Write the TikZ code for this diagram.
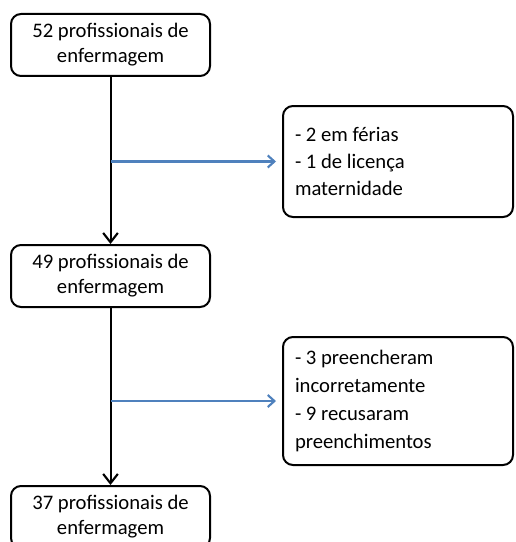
\documentclass[tikz,border=0pt]{standalone}
\usepackage{fontspec}
\setmainfont{Carlito}
\usetikzlibrary{arrows.meta}
\definecolor{arrowblue}{RGB}{79,129,189}
\begin{document}
\begin{tikzpicture}[x=0.75pt,y=-0.75pt,
  box/.style={draw=black, line width=1.5pt, rounded corners=7.5pt, fill=white, inner sep=0pt},
  mainbox/.style={box, minimum width=149.25pt, minimum height=46.5pt, align=center,
    font=\fontsize{15.5pt}{18.75pt}\selectfont},
  sidebox/.style={box, minimum width=172.5pt, inner xsep=9pt, text width=154.5pt, align=flush left},
  flow/.style={draw=black, line width=1.5pt, -{Straight Barb[length=7pt,width=11pt,line width=1.6pt]}},
  side/.style={draw=arrowblue, line width=1.8pt, shorten >=4.5pt, -{Straight Barb[length=5pt,width=9pt,line width=1.6pt]}}]
\useasboundingbox (0,0) rectangle (515,542);
\clip (0,0) rectangle (515,542);

\node[mainbox] (b1) at (110.5,45) {52 profissionais de\\enfermagem};
\node[mainbox] (b2) at (110.5,276) {49 profissionais de\\enfermagem};
\node[mainbox] (b3) at (110.5,517) {37 profissionais de\\enfermagem};

\node[sidebox, minimum height=83.25pt, font=\fontsize{15.5pt}{20.5pt}\selectfont] (r1) at (398,161.5)
  {- 2 em férias\\- 1 de licença\\maternidade};
\node[sidebox, minimum height=96pt, font=\fontsize{15.5pt}{21pt}\selectfont] (r2) at (398,401)
  {- 3 preencheram\\incorretamente\\- 9 recusaram\\preenchimentos};

\draw[flow] (b1.south) -- (b2.north);
\draw[flow] (b2.south) -- (b3.north);

\coordinate (j1) at (b1.south |- r1.west);
\coordinate (j2) at (b2.south |- r2.west);
\draw[side] (j1) -- (r1.west);
\draw[side] (j2) -- (r2.west);
\end{tikzpicture}
\end{document}
